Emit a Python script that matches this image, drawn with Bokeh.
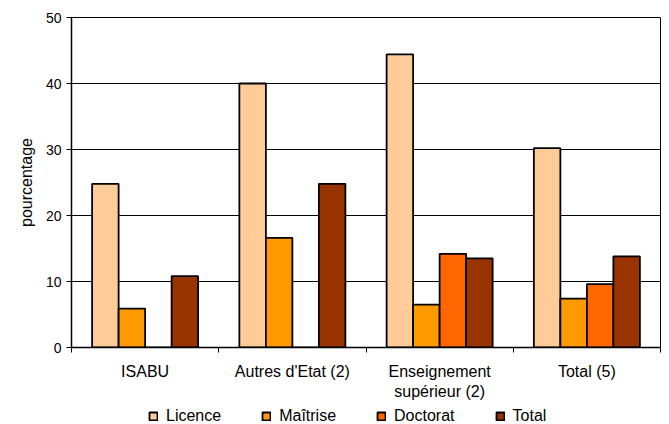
from bokeh.plotting import figure
from bokeh.models import ColumnDataSource, Range1d, FixedTicker, Legend
from bokeh.layouts import column
from bokeh.transform import dodge
from bokeh.embed import file_html
from bokeh.resources import INLINE

# ---- data ----
groups = ["ISABU", "Autres d'Etat (2)", "Enseignement\nsupérieur (2)", "Total (5)"]
group_pos = [0.5, 1.5, 2.5, 3.5]
licence = [24.8, 40.0, 44.4, 30.2]
maitrise = [5.9, 16.6, 6.5, 7.4]
doctorat = [0.0, 0.0, 14.2, 9.6]
total = [10.8, 24.8, 13.5, 13.8]
series_names = ["Licence", "Maîtrise", "Doctorat", "Total"]
series_colors = ["#FFCC99", "#FF9900", "#FF6600", "#993300"]
y_ticks = [0, 10, 20, 30, 40, 50]
boundaries = [0, 1, 2, 3, 4]

FONT = "Liberation Sans"

source = ColumnDataSource(dict(x=group_pos, licence=licence, maitrise=maitrise,
                               doctorat=doctorat, total=total))

p = figure(width=669, height=404, output_backend="svg", toolbar_location=None,
           x_range=Range1d(0, 4), y_range=Range1d(0, 50),
           min_border_left=71, min_border_right=9, min_border_top=17, min_border_bottom=57)

bw = 0.18
offsets = [-0.27, -0.09, 0.09, 0.27]
cols = ["licence", "maitrise", "doctorat", "total"]
for col, off, name, color in zip(cols, offsets, series_names, series_colors):
    p.vbar(x=dodge("x", off), top=col, width=bw, bottom=0, source=source,
           fill_color=color, line_color="black", line_width=1.8)

# y axis
p.yaxis.ticker = FixedTicker(ticks=y_ticks)
p.yaxis.major_tick_out = 5
p.yaxis.major_tick_in = 0
p.yaxis.minor_tick_line_color = None
p.yaxis.major_label_standoff = 5
p.yaxis.axis_line_width = 1.5
p.yaxis.axis_line_color = "black"
p.yaxis.major_tick_line_color = "black"
p.yaxis.major_label_text_font = FONT
p.yaxis.major_label_text_font_size = "14px"
p.yaxis.major_label_text_color = "black"
p.yaxis.axis_label = "pourcentage"
p.yaxis.axis_label_text_font = FONT
p.yaxis.axis_label_text_font_size = "16px"
p.yaxis.axis_label_text_font_style = "normal"
p.yaxis.axis_label_text_color = "black"
p.yaxis.axis_label_standoff = 8

# x axis
p.xaxis.ticker = FixedTicker(ticks=group_pos, minor_ticks=boundaries)
p.xaxis.major_label_overrides = {pos: g for pos, g in zip(group_pos, groups)}
p.xaxis.major_tick_line_color = None
p.xaxis.major_tick_out = 0
p.xaxis.major_tick_in = 0
p.xaxis.minor_tick_out = 5
p.xaxis.minor_tick_in = 0
p.xaxis.minor_tick_line_color = "black"
p.xaxis.axis_line_width = 1.5
p.xaxis.axis_line_color = "black"
p.xaxis.major_label_standoff = 10
p.xaxis.major_label_text_font = FONT
p.xaxis.major_label_text_font_size = "16px"
p.xaxis.major_label_text_color = "black"

p.xgrid.grid_line_color = None
p.ygrid.ticker = FixedTicker(ticks=y_ticks)
p.ygrid.grid_line_color = "black"
p.ygrid.grid_line_width = 1

p.outline_line_color = "black"
p.outline_line_width = 1
p.background_fill_color = "white"
p.border_fill_color = "white"

# ---- legend strip: same series, renderers hidden so only swatches show ----
q = figure(width=669, height=20, output_backend="svg", toolbar_location=None,
           x_range=Range1d(0, 4), y_range=Range1d(0, 50),
           min_border_left=0, min_border_right=0, min_border_top=0, min_border_bottom=0)
items = []
for col, off, name, color in zip(cols, offsets, series_names, series_colors):
    r = q.vbar(x=dodge("x", off), top=col, width=bw, bottom=0, source=source,
               fill_color=color, line_color="black", line_width=1.8)
    r.visible = False
    items.append((name, [r]))
q.axis.visible = False
q.grid.visible = False
q.outline_line_color = None
q.background_fill_color = "white"
q.border_fill_color = "white"

legend = Legend(items=items, orientation="horizontal", location=(77, -1),
                glyph_width=10, glyph_height=10, label_standoff=8, spacing=40,
                padding=0, margin=0, border_line_color=None,
                background_fill_alpha=0, label_height=18,
                inactive_fill_alpha=0,
                label_text_font=FONT, label_text_font_size="16px",
                label_text_color="black")
q.add_layout(legend, "center")

layout = column(p, q, spacing=0)
open("out.html", "w").write(file_html(layout, INLINE))
